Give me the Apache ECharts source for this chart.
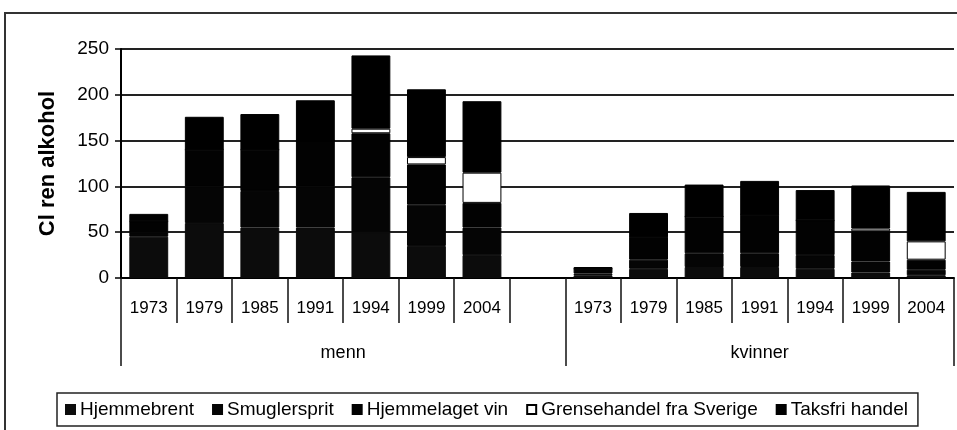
<!DOCTYPE html>
<html>
<head>
<meta charset="utf-8">
<script src="https://cdn.jsdelivr.net/npm/echarts@6/dist/echarts.min.js"></script>
<style>
html, body { margin: 0; padding: 0; background: #fff; }
#chart { width: 957px; height: 430px; }
</style>
</head>
<body>
<div id="chart"></div>
<script>
// categories: men years, one blank slot, women years
const years = ['1973', '1979', '1985', '1991', '1994', '1999', '2004', '',
               '1973', '1979', '1985', '1991', '1994', '1999', '2004'];
const groups = ['menn', 'kvinner'];
const groupSpans = [8, 7];

const hjemmebrent   = [45, 60, 55, 55, 50, 35, 25, null, 3, 10, 12, 12, 10, 6, 3];
const smuglersprit  = [5, 40, 40, 45, 60, 45, 30, null, 2, 10, 15, 15, 15, 12, 6];
const hjemmelaget   = [12, 40, 45, 50, 48, 44, 27, null, 5, 25, 40, 42, 38, 33, 11];
const grensehandel  = [0, 0, 0, 0, 5, 8, 33, null, 0, 0, 0, 0, 0, 3, 20];
const taksfri       = [8, 36, 39, 44, 80, 74, 78, null, 2, 26, 35, 37, 33, 47, 54];

const yTicks = [0, 50, 100, 150, 200, 250];

// second level axis, half-category resolution
const groupSlots = new Array(years.length * 2 + 1).fill('');
const groupBounds = [0];
let start = 0;
groups.forEach(function (g, i) {
    groupSlots[start * 2 + groupSpans[i]] = g;
    start += groupSpans[i];
    groupBounds.push(start * 2);
});

const font = 'Liberation Sans, Arial, sans-serif';

// dark segments get a border of their own colour so no seams show between them
function bar(name, data, color, border) {
    return {
        name: name,
        type: 'bar',
        stack: 'total',
        data: data,
        barWidth: '70%',
        itemStyle: { color: color, borderColor: border || color, borderWidth: 1 }
    };
}

const chart = echarts.init(document.getElementById('chart'));
chart.setOption({
    animation: false,
    textStyle: { fontFamily: font, color: '#000' },
    graphic: [{
        type: 'rect',
        shape: { x: 5, y: 13, width: 970, height: 440 },
        style: { fill: 'none', stroke: '#333', lineWidth: 2 },
        silent: true
    }],
    grid: { left: 121, right: 2, top: 49, bottom: 152 },
    legend: {
        left: 57,
        top: 393,
        padding: [7, 10, 7, 8],
        itemGap: 18,
        itemWidth: 9,
        itemHeight: 9,
        icon: 'rect',
        borderColor: '#222',
        borderWidth: 1.5,
        textStyle: { fontSize: 19, fontFamily: font, color: '#000' }
    },
    xAxis: [{
        type: 'category',
        data: years,
        position: 'bottom',
        axisLine: { lineStyle: { color: '#000', width: 2 } },
        axisTick: { show: true, interval: 0, length: 45, lineStyle: { color: '#111', width: 1.5 } },
        axisLabel: { interval: 0, margin: 22, fontSize: 17, color: '#000' }
    }, {
        type: 'category',
        data: groupSlots,
        position: 'bottom',
        boundaryGap: false,
        axisLine: { show: false },
        axisTick: {
            show: true,
            length: 88,
            interval: function (idx) { return groupBounds.indexOf(idx) >= 0; },
            lineStyle: { color: '#111', width: 1.5 }
        },
        axisLabel: { interval: 0, margin: 66, fontSize: 18, color: '#000' }
    }],
    yAxis: {
        type: 'value',
        min: yTicks[0],
        max: yTicks[yTicks.length - 1],
        interval: yTicks[1] - yTicks[0],
        name: 'Cl ren alkohol',
        nameLocation: 'middle',
        nameGap: 62,
        nameTextStyle: { fontSize: 22, fontWeight: 'bold', color: '#000' },
        axisLine: { show: true, lineStyle: { color: '#000', width: 2 } },
        axisTick: { show: true, length: 6, lineStyle: { color: '#000', width: 1.5 } },
        axisLabel: { fontSize: 19, margin: 12, color: '#000' },
        splitLine: { lineStyle: { color: '#222', width: 2 } }
    },
    series: [
        bar('Hjemmebrent', hjemmebrent, '#0c0c0c'),
        bar('Smuglersprit', smuglersprit, '#050505'),
        bar('Hjemmelaget vin', hjemmelaget, '#020202'),
        bar('Grensehandel fra Sverige', grensehandel, '#ffffff', '#000000'),
        bar('Taksfri handel', taksfri, '#000000')
    ]
});
</script>
</body>
</html>
